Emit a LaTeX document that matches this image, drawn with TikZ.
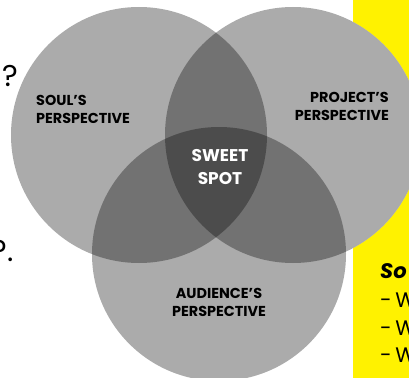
\documentclass[tikz,border=0pt]{standalone}
\usepackage{fontspec}
\setmainfont{Poppins}
\begin{document}
\begin{tikzpicture}[x=1pt,y=-1pt,
  disc/.style={fill=black,fill opacity=0.33},
  blank/.style={fill=white},
  label/.style={font=\fontsize{14.4}{18.5}\selectfont\bfseries,inner sep=0pt,text=black},
  sweet/.style={font=\fontsize{17}{23}\selectfont\bfseries,inner sep=0pt,text=white,align=center},
  qmark/.style={font=\fontsize{30}{30}\selectfont,inner sep=0pt},
  note/.style={font=\fontsize{21}{24}\selectfont,inner sep=0pt,anchor=north west},
]
\useasboundingbox (0,0) rectangle (409,377);
\clip (0,0) rectangle (409,377);

% yellow note panel behind the circles
\fill[fill={rgb,255:red,255;green,242;blue,0}] (353,0) rectangle (420,380);

% circle centres
\coordinate (cs) at (139,135);
\coordinate (cp) at (293,135);
\coordinate (ca) at (219,254);

% opaque white base so the panel does not show through
\fill[blank] (cs) circle[radius=128];
\fill[blank] (cp) circle[radius=128];
\fill[blank] (ca) circle[radius=127];

% translucent discs: overlaps darken
\fill[disc] (cs) circle[radius=128];
\fill[disc] (cp) circle[radius=128];
\fill[disc] (ca) circle[radius=127];

% labels
\node[label,align=left,anchor=north west] (soul) at (36,95) {SOUL'S\\PERSPECTIVE};
\node[label,align=right,anchor=north east] (project) at (389,92) {PROJECT'S\\PERSPECTIVE};
\node[label,align=center,anchor=north] (audience) at (219,288) {AUDIENCE'S\\PERSPECTIVE};
\node[sweet,anchor=north] (spot) at (220,149) {SWEET\\SPOT};

% question marks at the left margin
\node[qmark,anchor=north west] (q1) at (2,65) {?};
\node[qmark,anchor=north east] (q2) at (14,240) {?.};

% note text
\node[note,font=\fontsize{21}{24}\selectfont\bfseries\itshape] (so) at (380,263) {So};
\node[note] (w1) at (380,293) {-\hspace{3.5pt}W};
\node[note] (w2) at (380,321) {-\hspace{3.5pt}W};
\node[note] (w3) at (380,348) {-\hspace{3.5pt}W};
\end{tikzpicture}
\end{document}
